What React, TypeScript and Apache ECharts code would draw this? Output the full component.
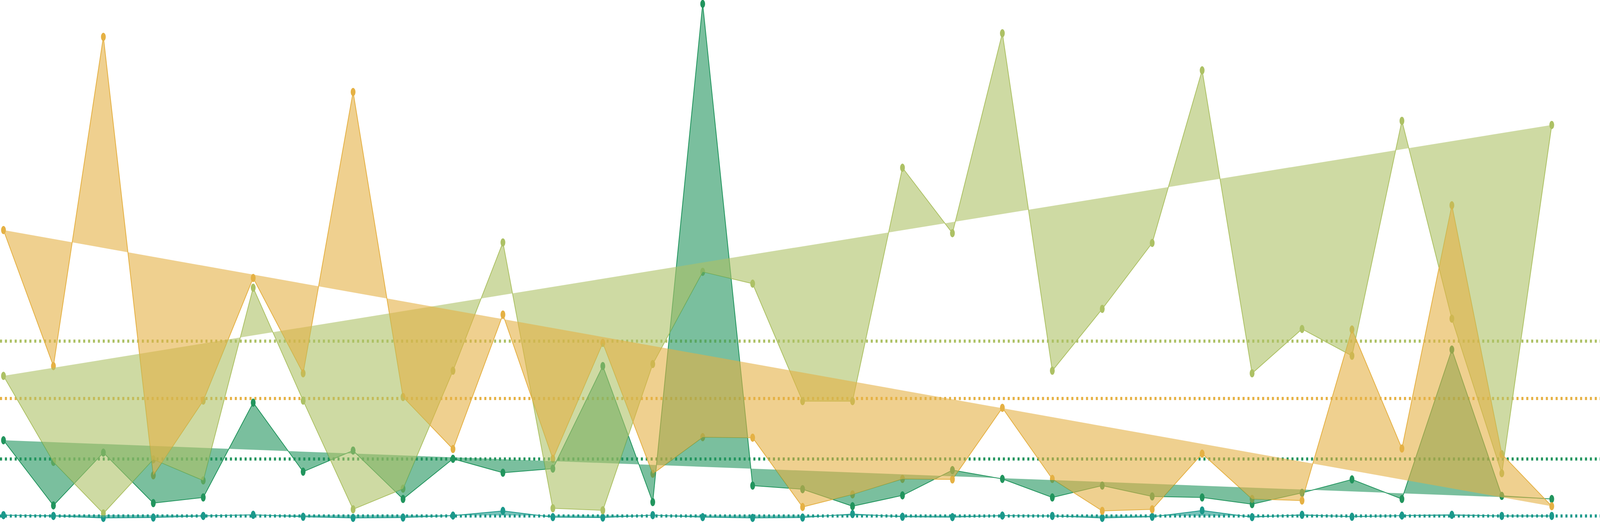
import React, { useEffect, useRef } from 'react';
import * as echarts from 'echarts';

// 32 points per series (0..100 scale)
const tealValues = [0.76, 0.61, 0.23, 0.3, 0.61, 0.83, 0.45, 0.23, 0.3, 0.68, 1.59, 0.38, 0.3, 0.76, 0.38, 0.23,
  0.3, 0.98, 0.45, 0.38, 0.68, 0.61, 0.23, 0.45, 1.67, 0.38, 0.83, 0.45, 0.68, 0.83, 0.61, 0.61];
const greenValues = [15.3, 2.65, 12.9, 3.1, 4.2, 22.6, 9.2, 13.3, 3.9, 11.7, 9.0, 9.8, 29.7, 3.3, 100, 6.5,
  5.8, 2.5, 4.6, 9.5, 7.8, 4.2, 6.5, 4.4, 4.2, 2.9, 5.1, 7.7, 3.9, 32.9, 4.5, 3.9];
const oliveValues = [27.8, 11.1, 1.1, 11.6, 7.5, 44.9, 23.0, 1.9, 5.9, 28.8, 53.7, 2.1, 1.7, 30.1, 48.0, 45.7,
  22.9, 22.9, 68.2, 55.5, 94.3, 28.8, 40.8, 53.6, 87.1, 28.3, 36.9, 31.7, 77.3, 38.9, 8.9, 76.5];
const orangeValues = [56.1, 29.7, 93.6, 8.5, 23.0, 46.8, 28.3, 82.9, 23.7, 13.6, 39.7, 11.7, 34.2, 8.8, 15.9, 15.8,
  2.35, 4.8, 7.8, 7.7, 21.6, 7.8, 1.6, 1.9, 12.7, 3.9, 3.6, 36.8, 13.7, 60.9, 12.6, 2.5];

// dotted reference lines (series means)
const meanLines = [0.6, 11.7, 34.6, 23.4];

const seriesNames = ['teal', 'green', 'olive', 'orange'];
const seriesColors = ['#1b998b', '#22955e', '#adc165', '#e5b144'];
const fillColors = ['rgba(27,153,139,0.6)', 'rgba(34,149,94,0.6)', 'rgba(173,193,101,0.6)', 'rgba(229,177,68,0.6)'];
const allValues = [tealValues, greenValues, oliveValues, orangeValues];

const DESIGN_WIDTH = 7032;

const App: React.FC = () => {
  const chartRef = useRef<HTMLDivElement>(null);

  useEffect(() => {
    if (!chartRef.current) return;
    document.body.style.margin = '0';
    document.body.style.overflow = 'hidden';
    const chart = echarts.init(chartRef.current, null, { renderer: 'svg' });

    const build = () => {
      // keep marks' horizontal size relative to the 7032px-wide design
      const k = (chartRef.current ? chartRef.current.clientWidth : DESIGN_WIDTH) / DESIGN_WIDTH;

      const lineSeries = allValues.map((values, s) => ({
        name: seriesNames[s],
        type: 'line',
        z: 2,
        data: values.map((v, i) => [i, v]),
        symbol: 'circle',
        symbolSize: [21 * k, 21],
        showSymbol: true,
        itemStyle: { color: seriesColors[s] },
        lineStyle: { color: seriesColors[s], width: 2 },
        emphasis: { disabled: true },
        markLine: {
          silent: true,
          symbol: 'none',
          z: 1,
          label: { show: false },
          lineStyle: { color: seriesColors[s], width: 8, type: [9 * k, 12.5 * k], opacity: 1 },
          data: [{ yAxis: meanLines[s] }]
        }
      }));

      // closed polygon fill: line points joined back to the first point
      const fillSeries = allValues.map((values, s) => ({
        name: seriesNames[s] + '-fill',
        type: 'custom',
        z: 10 + s,
        clip: false,
        silent: true,
        data: [[0, values[0]]],
        renderItem: (params: any, api: any) => ({
          type: 'polygon',
          shape: { points: values.map((v, i) => api.coord([i, v])) },
          style: { fill: fillColors[s] }
        })
      }));

      return {
        animation: false,
        grid: { left: 0, right: 0, top: 10, bottom: 10 },
        xAxis: { type: 'value', min: -0.0697, max: 31.966, show: false },
        yAxis: { type: 'value', min: 0, max: 100, show: false },
        series: [...lineSeries, ...fillSeries]
      } as any;
    };

    chart.setOption(build());
    const onResize = () => {
      chart.resize();
      chart.setOption(build(), true);
    };
    window.addEventListener('resize', onResize);
    return () => {
      window.removeEventListener('resize', onResize);
      chart.dispose();
    };
  }, []);

  return <div ref={chartRef} style={{ width: '100vw', height: '100vh' }} />;
};

export default App;
